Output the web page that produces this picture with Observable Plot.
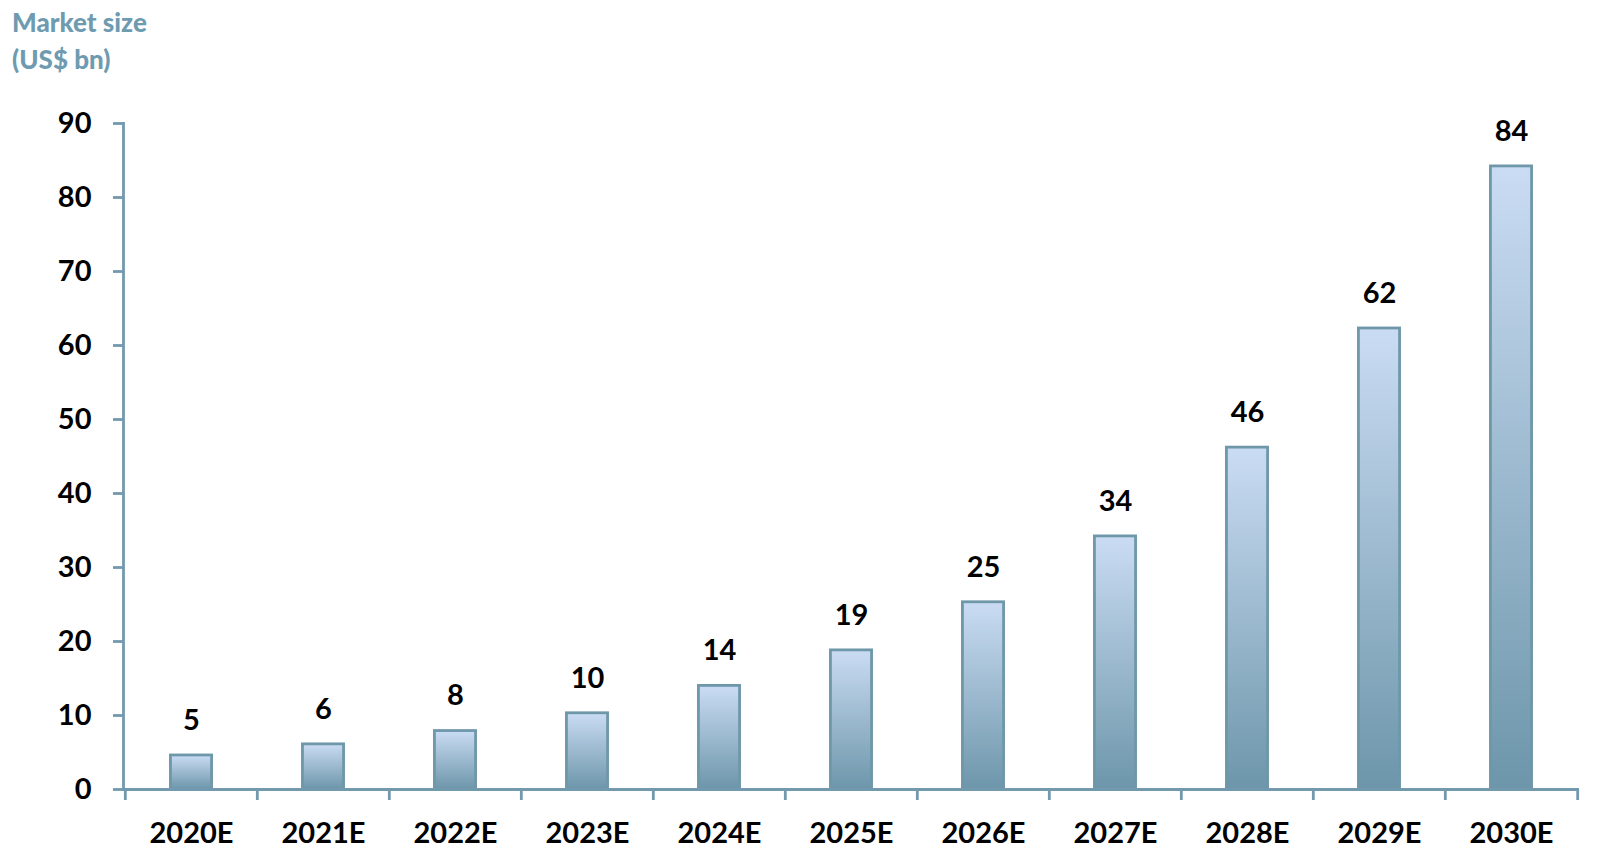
<!DOCTYPE html>
<html>
<head>
<meta charset="utf-8">
<script src="https://cdn.jsdelivr.net/npm/d3@7"></script>
<script src="https://cdn.jsdelivr.net/npm/@observablehq/plot@0.6"></script>
<style>
  html, body { margin: 0; padding: 0; background: #fff; }
  #title { height: 100px; box-sizing: border-box; padding: 4px 0 0 12px; font-family: Lato, "Open Sans", sans-serif; font-weight: 900; font-size: 26px; line-height: 37px; color: #6f9bb1; }
  #chart svg { display: block; }
</style>
</head>
<body>
<div id="title">Market size<br>(US$ bn)</div>
<div id="chart"></div>
<script>
const categories = ["2020E","2021E","2022E","2023E","2024E","2025E","2026E","2027E","2028E","2029E","2030E"];
const values = [4.6, 6.1, 7.9, 10.3, 14.0, 18.8, 25.3, 34.2, 46.2, 62.3, 84.2];
const labels = ["5","6","8","10","14","19","25","34","46","62","84"];
const yTicks = [0,10,20,30,40,50,60,70,80,90];

const data = categories.map((c, i) => ({category: c, value: values[i], label: labels[i]}));

const W = 1606, H = 764;
const mL = 123, mR = 27, mT = 23, mB = 75;
const bw = (W - mL - mR) / categories.length;
const axisColor = "#7299ad";
const barW = 41.5;
const inset = (bw - barW) / 2;
const SW = 2.8;

const chart = Plot.plot({
  width: W,
  height: H,
  marginLeft: mL,
  marginRight: mR,
  marginTop: mT,
  marginBottom: mB,
  style: {fontFamily: "Lato, 'Open Sans', sans-serif", fontWeight: "bold", fontSize: "29px", color: "black", background: "white"},
  x: {type: "band", domain: categories, padding: 0, label: null},
  y: {domain: [0, 90], label: null},
  marks: [
    Plot.barY(data, {x: "category", y: "value", fill: "url(#barGrad)", stroke: "#6f97aa", strokeWidth: SW, insetLeft: inset, insetRight: inset}),
    Plot.text(data, {x: "category", y: "value", text: "label", dy: -35, fill: "black", fontSize: 29, fontWeight: "bold"}),
    Plot.axisY(yTicks, {tickSize: 10, stroke: axisColor, strokeWidth: SW, tickFormat: () => "", label: null}),
    Plot.axisY(yTicks, {tickSize: 0, tickPadding: 32, fill: "black", fontSize: 29, label: null}),
    Plot.frame({anchor: "left", stroke: axisColor, strokeWidth: SW}),
    Plot.ruleY([0], {stroke: axisColor, strokeWidth: SW}),
    Plot.axisX(categories, {tickSize: 11, stroke: axisColor, strokeWidth: SW, dx: -bw / 2, tickFormat: () => "", label: null}),
    Plot.axisX([categories[categories.length - 1]], {tickSize: 11, stroke: axisColor, strokeWidth: SW, dx: bw / 2, tickFormat: () => "", label: null}),
    Plot.axisX(categories, {tickSize: 0, tickPadding: 33, fill: "black", fontSize: 29, label: null})
  ]
});

const svg = d3.select(chart);
const defs = svg.insert("defs", ":first-child");
const grad = defs.append("linearGradient").attr("id", "barGrad").attr("x1", 0).attr("y1", 0).attr("x2", 0).attr("y2", 1);
grad.append("stop").attr("offset", "0%").attr("stop-color", "#cadcf3");
grad.append("stop").attr("offset", "100%").attr("stop-color", "#6d96aa");

document.getElementById("chart").appendChild(chart);
</script>
</body>
</html>
